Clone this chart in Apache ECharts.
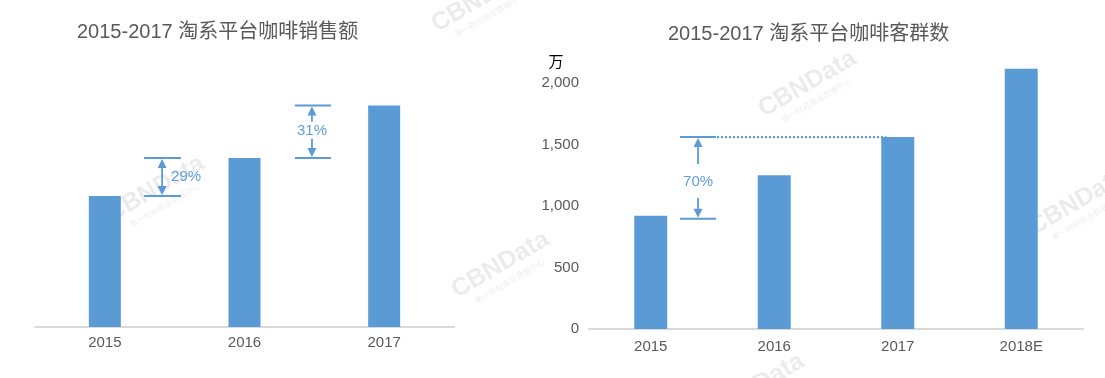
<!DOCTYPE html>
<html><head><meta charset="utf-8">
<script src="https://cdn.jsdelivr.net/npm/echarts@6/dist/echarts.min.js"></script>
<style>html,body{margin:0;padding:0;background:#fff}#c{width:1105px;height:378px}</style>
</head><body><div id="c"></div>
<script>
// ---- data ----
const leftTitle = '2015-2017 淘系平台咖啡销售额';
const rightTitle = '2015-2017 淘系平台咖啡客群数';
const leftCategories = ['2015', '2016', '2017'];
const leftSalesIndex = [100, 129, 169];          // relative sales (2015 = 100)
const rightCategories = ['2015', '2016', '2017', '2018E'];
const rightCustomers = [920, 1250, 1560, 2115];  // 万
const rightTicks = [0, 500, 1000, 1500, 2000];
const rightUnit = '万';
const growthLabels = ['29%', '31%', '70%'];
const watermarkText = 'CBNData';
const watermarkSub = '第一财经商业数据中心';

// ---- styles ----
const BLUE = '#5B9BD5';
const GREY_TEXT = '#595959';
const FONT = "'Liberation Sans', 'Noto Sans CJK SC', sans-serif";

const chart = echarts.init(document.getElementById('c'), null, {renderer: 'canvas'});

const option = {
  backgroundColor: '#fff',
  animation: false,
  title: [
    {text: leftTitle, left: 77, top: 22, padding: 0,
     textStyle: {color: GREY_TEXT, fontSize: 20, fontWeight: 'normal', fontFamily: FONT}},
    {text: rightTitle, left: 668, top: 24, padding: 0,
     textStyle: {color: GREY_TEXT, fontSize: 20, fontWeight: 'normal', fontFamily: FONT}}
  ],
  grid: [
    {left: 35, right: 1105 - 454, top: 65, bottom: 378 - 327, containLabel: false},
    {left: 589, right: 1105 - 1083, top: 83, bottom: 378 - 329, containLabel: false}
  ],
  xAxis: [
    {type: 'category', gridIndex: 0, data: leftCategories,
     axisLine: {lineStyle: {color: '#D9D9D9', width: 2}}, axisTick: {show: false},
     axisLabel: {color: GREY_TEXT, fontSize: 15, fontFamily: FONT, margin: 8}},
    {type: 'category', gridIndex: 1, data: rightCategories,
     axisLine: {lineStyle: {color: '#D9D9D9', width: 2}}, axisTick: {show: false},
     axisLabel: {color: GREY_TEXT, fontSize: 15, fontFamily: FONT, margin: 10}}
  ],
  yAxis: [
    {type: 'value', gridIndex: 0, min: 0, max: 200, show: false, splitLine: {show: false}},
    {type: 'value', gridIndex: 1, min: rightTicks[0], max: rightTicks[rightTicks.length - 1],
     interval: rightTicks[1] - rightTicks[0],
     axisLine: {show: false}, axisTick: {show: false}, splitLine: {show: false},
     axisLabel: {color: GREY_TEXT, fontSize: 15, fontFamily: FONT, margin: 10,
       formatter: v => Number(v).toLocaleString('en-US')}}
  ],
  series: [
    {type: 'bar', xAxisIndex: 0, yAxisIndex: 0, data: leftSalesIndex, barWidth: 32,
     itemStyle: {color: BLUE}},
    {type: 'bar', xAxisIndex: 1, yAxisIndex: 1, data: rightCustomers, barWidth: 33,
     clip: false, itemStyle: {color: BLUE}}
  ]
};
chart.setOption(option);

// ---- annotations positioned through the axes ----
function P(g, xf, v) {
  const i = Math.floor(xf);
  const a = chart.convertToPixel({xAxisIndex: g, yAxisIndex: g}, [i, v]);
  const b = chart.convertToPixel({xAxisIndex: g, yAxisIndex: g}, [i + 1, v]);
  return [a[0] + (b[0] - a[0]) * (xf - i), a[1]];
}
const gfx = [];
function hline(x1, x2, y, dash, w) {
  gfx.push({type: 'line', z: 50, shape: {x1, y1: y, x2, y2: y},
    style: {stroke: BLUE, lineWidth: w || 2, lineDash: dash || null}});
}
function vline(x, y1, y2) {
  gfx.push({type: 'line', z: 50, shape: {x1: x, y1, x2: x, y2}, style: {stroke: BLUE, lineWidth: 1.8}});
}
function headUp(x, tip) {
  gfx.push({type: 'polygon', z: 50, shape: {points: [[x, tip], [x - 4.5, tip + 9], [x + 4.5, tip + 9]]}, style: {fill: BLUE}});
}
function headDown(x, tip) {
  gfx.push({type: 'polygon', z: 50, shape: {points: [[x, tip], [x - 4.5, tip - 9], [x + 4.5, tip - 9]]}, style: {fill: BLUE}});
}
function label(txt, x, y, align) {
  gfx.push({type: 'text', z: 50, x, y, style: {text: txt, fill: '#62A0DA', font: '15px ' + FONT,
    textAlign: align, textVerticalAlign: 'middle'}});
}

// 29% : 2015 -> 2016 (left)
{
  const lo = P(0, 0.281, leftSalesIndex[0]), hi = P(0, 0.281, leftSalesIndex[1]);
  const xe = P(0, 0.545, 0)[0], ax = P(0, 0.41, 0)[0];
  hline(lo[0], xe, lo[1]); hline(hi[0], xe, hi[1]);
  vline(ax, hi[1] + 6, lo[1] - 6);
  headUp(ax, hi[1] + 1); headDown(ax, lo[1] - 1);
  label(growthLabels[0], ax + 9, (lo[1] + hi[1]) / 2, 'left');
}
// 31% : 2016 -> 2017 (left)
{
  const lo = P(0, 1.361, leftSalesIndex[1]), hi = P(0, 1.361, leftSalesIndex[2]);
  const xe = P(0, 1.619, 0)[0], ax = P(0, 1.483, 0)[0];
  hline(lo[0], xe, lo[1]); hline(hi[0], xe, hi[1]);
  const mid = (lo[1] + hi[1]) / 2 - 1;
  vline(ax, hi[1] + 6, mid - 9); vline(ax, mid + 8, lo[1] - 6);
  headUp(ax, hi[1] + 1); headDown(ax, lo[1] - 1);
  label(growthLabels[1], ax, mid, 'center');
}
// 70% : 2015 -> 2017 (right)
{
  const lo = P(1, 0.237, rightCustomers[0]), hi = P(1, 0.237, rightCustomers[2]);
  const xe = P(1, 0.528, 0)[0], ax = P(1, 0.383, 0)[0], xd = P(1, 1.905, 0)[0];
  hline(lo[0], xe, lo[1] + 3); hline(hi[0], xe, hi[1]);
  hline(xe + 1, xd, hi[1], [2, 2], 2.2);
  const mid = (lo[1] + 3 + hi[1]) / 2 + 4;
  vline(ax, hi[1] + 6, mid - 18); vline(ax, mid + 16, lo[1] + 3 - 6);
  headUp(ax, hi[1] + 1); headDown(ax, lo[1] + 3 - 1);
  label(growthLabels[2], ax, mid, 'center');
}
// unit label
gfx.push({type: 'text', x: 556, y: 63, style: {text: rightUnit, fill: '#000', font: '15px ' + FONT,
  textAlign: 'center', textVerticalAlign: 'middle'}});

// watermarks
[[115, 227], [460, 303], [440, 37], [767, 122], [1037, 240], [715, 425]].forEach(([x, y]) => {
  gfx.push({type: 'group', x, y, rotation: 0.53, z: 100, children: [
    {type: 'text', x: 0, y: 0, style: {text: watermarkText, fill: 'rgba(0,0,0,0.08)',
      font: 'bold 25px ' + FONT, textAlign: 'left', textVerticalAlign: 'bottom'}},
    {type: 'text', x: 14, y: 3, style: {text: watermarkSub, fill: 'rgba(0,0,0,0.08)',
      font: '8px ' + FONT, textAlign: 'left', textVerticalAlign: 'top'}}
  ]});
});

chart.setOption({graphic: gfx});
</script>
</body></html>
